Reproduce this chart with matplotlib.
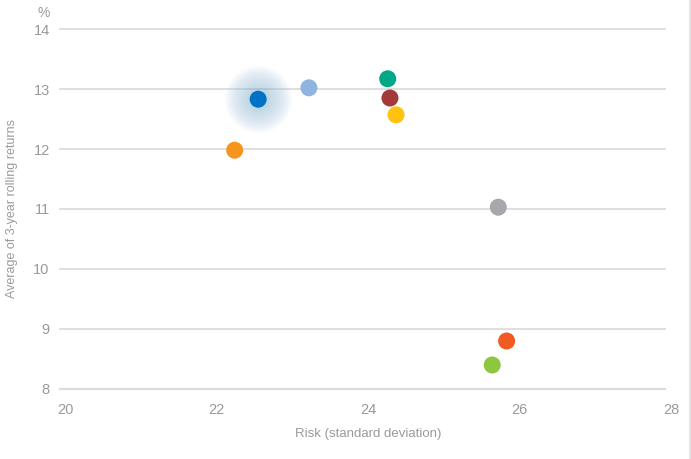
import numpy as np
import matplotlib.pyplot as plt
from matplotlib.lines import Line2D

risk = [22.55, 23.22, 22.24, 24.26, 24.29, 24.37, 25.72, 25.83, 25.64]
returns = [12.83, 13.02, 11.98, 13.17, 12.85, 12.57, 11.03, 8.80, 8.40]
colors = ["#0072c6", "#8fb4e0", "#f7941d", "#00a887", "#a33a3a",
          "#ffc20e", "#a7a8ac", "#f15a22", "#8dc63f"]
highlight = 0  # index of the point with the glow

xticks = [20, 22, 24, 26, 28]
yticks = [8, 9, 10, 11, 12, 13, 14]

plt.rcParams['font.family'] = ['Liberation Sans Narrow', 'Liberation Sans', 'DejaVu Sans']
grey = "#9a9a9a"

fig = plt.figure(figsize=(6.91, 4.59), dpi=100)
ax = fig.add_axes([65 / 691, 70 / 459, 606 / 691, 360 / 459])
ax.set_xlim(20, 28)
ax.set_ylim(8, 14)

for y in yticks:
    ax.axhline(y, xmin=-5 / 606, xmax=1 - 6 / 606, color="#dcdcdc",
               lw=1.6 if y == 8 else 1.3, clip_on=False, zorder=1)

# soft glow behind highlighted point (radius in px -> marker size in pt^2)
gx, gy = risk[highlight], returns[highlight]
for r in np.linspace(34, 8, 30):
    ax.scatter(gx, gy, s=(2 * r * 0.72) ** 2, color="#6aaae4", alpha=0.014, lw=0, zorder=2)

ax.scatter(risk, returns, s=150, c=colors, lw=0, zorder=3)

ax.set_xticks(xticks)
ax.set_yticks(yticks)
ax.tick_params(length=0, labelsize=10.5, colors=grey)
ax.tick_params(axis='y', pad=11)
ax.tick_params(axis='x', pad=10)
for s in ax.spines.values():
    s.set_visible(False)

ax.set_xlabel("Risk (standard deviation)", fontsize=9.5, color=grey)
ax.xaxis.set_label_coords(0.5, -(428 - 389) / 360)
ax.set_ylabel("Average of 3-year rolling returns", fontsize=9, color=grey)
ax.yaxis.set_label_coords((18 - 65) / 606, 0.5)
fig.text(44 / 691, 1 - 13 / 459, "%", fontsize=10, color=grey, ha="center", va="center")

fig.add_artist(Line2D([689.5 / 691, 689.5 / 691], [0, 1], color="#e6e6e6", lw=1.5))

fig.savefig("out.png", dpi=100)
